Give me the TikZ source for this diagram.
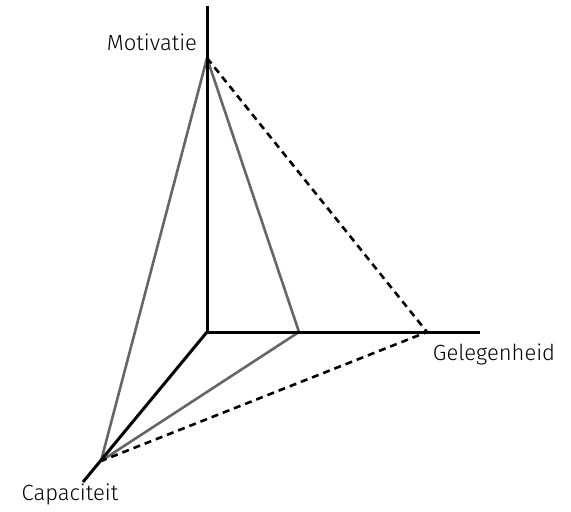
\documentclass[tikz,border=0pt]{standalone}
\usepackage{fontspec}
\setmainfont{Fira Sans}[UprightFont=* Light]
\begin{document}
\begin{tikzpicture}[x=1pt,y=-1pt,
  axis/.style={line width=3pt},
  grayline/.style={line width=2.6pt,draw=black!60},
  dashline/.style={line width=2.6pt,dash pattern=on 7pt off 5pt},
  lbl/.style={font=\fontsize{22}{26}\selectfont,text=black}]
\useasboundingbox (0,0) rectangle (571,512);
\coordinate (O) at (207,332);
\coordinate (top) at (207,6);
\coordinate (right) at (480,332);
\coordinate (down) at (83,482);
\coordinate (M) at (207,58);
\coordinate (C) at (101,461);
\coordinate (G) at (299,332);
\coordinate (D) at (427,332);
\draw[grayline] (C) -- (M) -- (G) -- (C);
\draw[dashline] (M) -- (D) -- (C);
\draw[axis] (top) -- (O) -- (right);
\draw[axis] (O) -- (down);
\node[lbl] (lm) at (152,42) {Motivatie};
\node[lbl] (lg) at (494,354) {Gelegenheid};
\node[lbl] (lc) at (70,494) {Capaciteit};
\end{tikzpicture}
\end{document}
